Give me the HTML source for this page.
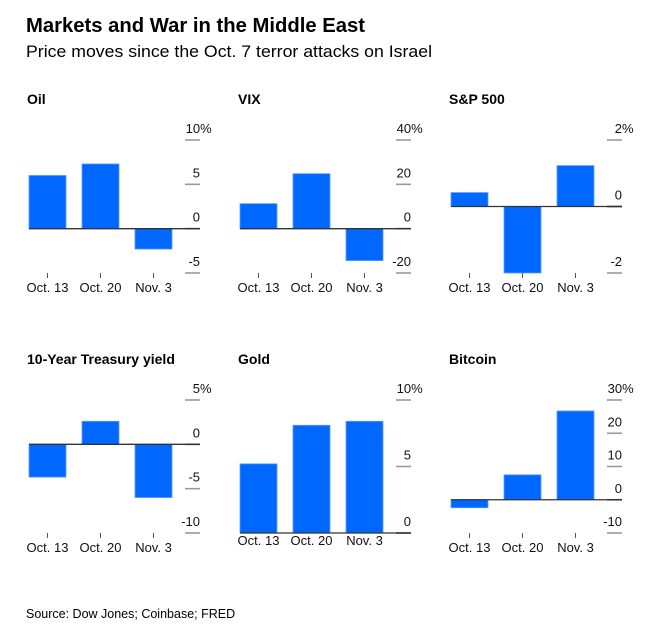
<!DOCTYPE html>
<html><head><meta charset="utf-8"><style>
body{margin:0;background:#fff;width:664px;height:631px;overflow:hidden;font-family:"Liberation Sans",Arial,sans-serif}
svg text{font-family:"Liberation Sans",Arial,sans-serif}
</style></head><body>
<svg id="chart" width="664" height="631" xmlns="http://www.w3.org/2000/svg">
<text x="26" y="32" font-size="20.5" font-weight="bold" fill="#000" textLength="339" lengthAdjust="spacingAndGlyphs">Markets and War in the Middle East</text>
<text x="26" y="57" font-size="17" fill="#000" textLength="406" lengthAdjust="spacingAndGlyphs">Price moves since the Oct. 7 terror attacks on Israel</text>
<text x="26" y="618" font-size="12.5" fill="#000">Source: Dow Jones; Coinbase; FRED</text>
<g id="panels"></g>
</svg>
<script>
const categories = ["Oct. 13", "Oct. 20", "Nov. 3"];
const panelTitles = ["Oil", "VIX", "S&P 500", "10-Year Treasury yield", "Gold", "Bitcoin"];
const oilValues = [6.0, 7.3, -2.3];
const vixValues = [11.3, 24.8, -14.4];
const spValues = [0.42, -2.0, 1.23];
const treasuryValues = [-3.7, 2.6, -6.0];
const goldValues = [5.2, 8.1, 8.4];
const bitcoinValues = [-2.4, 7.5, 26.7];
const oilTicks = [10, 5, 0, -5];
const vixTicks = [40, 20, 0, -20];
const spTicks = [2, 0, -2];
const treasuryTicks = [5, 0, -5, -10];
const goldTicks = [10, 5, 0];
const bitcoinTicks = [30, 20, 10, 0, -10];
const seriesList = [oilValues, vixValues, spValues, treasuryValues, goldValues, bitcoinValues];
const tickList = [oilTicks, vixTicks, spTicks, treasuryTicks, goldTicks, bitcoinTicks];

const NS = "http://www.w3.org/2000/svg";
const root = document.getElementById("panels");
function mk(tag, attrs, parent) {
  const e = document.createElementNS(NS, tag);
  for (const k in attrs) e.setAttribute(k, attrs[k]);
  parent.appendChild(e);
  return e;
}
seriesList.forEach(function (vals, p) {
  const col = p % 3, row = Math.floor(p / 3);
  const x0 = 29 + col * 211;
  const W = 171;
  const yTop = row === 0 ? 140 : 400;
  const yBot = row === 0 ? 273 : 533;
  const ticks = tickList[p];
  const tMax = Math.max.apply(null, ticks), tMin = Math.min.apply(null, ticks);
  const y = function (v) { return yTop + (tMax - v) / (tMax - tMin) * (yBot - yTop); };
  const xBand = function (i) { return x0 + i * 53; };
  const g = mk("g", {}, root);
  
  
  const t = mk("text", { x: x0 - 2, y: row === 0 ? 104 : 364, "font-size": 14, "font-weight": "bold", fill: "#000" }, g);
  t.textContent = panelTitles[p];
  
  
  ticks.forEach(function (tv, k) {
    const ty = y(tv);
    const ln = mk("line", { x1: x0 + W - 15, x2: x0 + W, y1: ty, y2: ty, stroke: tv === 0 ? "#333" : "#999", "stroke-width": 1.6 }, g);
    
    
    const lb = mk("text", { x: x0 + W, y: ty - 7, "font-size": 13, fill: "#111", "text-anchor": "end" }, g);
    lb.textContent = String(tv);
    if (k === 0) {
      const ts = mk("tspan", {}, lb); ts.textContent = "%";
      lb.setAttribute("text-anchor", "start");
      lb.setAttribute("x", x0 + W - (String(tv).length * 7.2));
    }
    
    
  });
  vals.forEach(function (v, i) {
    const bx = xBand(i);
    const yy = Math.min(y(v), y(0)), h = Math.abs(y(v) - y(0));
    const r = mk("rect", { x: bx, y: yy, width: 37, height: h, fill: "#0068ff", stroke: "#5c9dff", "stroke-width": 0.8 }, g);
    
    
  });
  const zl = mk("line", { x1: x0, x2: x0 + W, y1: y(0), y2: y(0), stroke: "#333", "stroke-width": 1.3 }, g);
  
  
  const isGold = (tMin === 0);
  categories.forEach(function (c, i) {
    const cx = xBand(i) + 18.5;
    if (!isGold) {
      const tk = mk("line", { x1: cx, x2: cx, y1: yBot, y2: yBot + 5, stroke: "#555", "stroke-width": 1 }, g);
      
      
    }
    const cl = mk("text", { x: cx, y: isGold ? yBot + 12 : yBot + 19, "font-size": 13, fill: "#111", "text-anchor": "middle" }, g);
    cl.textContent = c;
    
    
  });
});
</script>
</body></html>
